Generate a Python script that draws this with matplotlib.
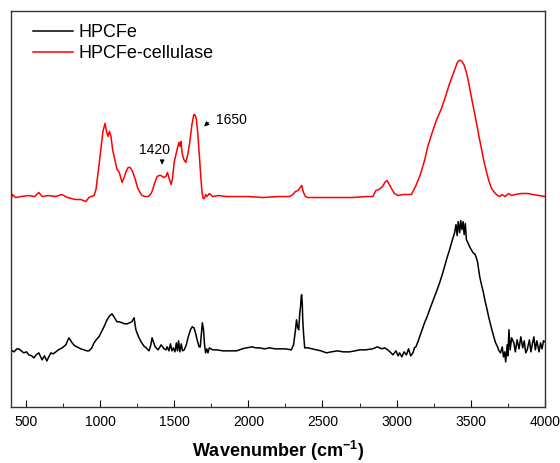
import matplotlib.pyplot as plt
from matplotlib.ticker import MultipleLocator

plt.rcParams.update({
    'font.family': ['Liberation Sans', 'DejaVu Sans'],
    'font.size': 10,
    'mathtext.default': 'regular',
})

# HPCFe-cellulase (red), wavenumber / intensity (a.u.)
wn_red = [400, 410, 430, 470, 520, 560, 588, 610, 650, 700, 743, 780, 836, 870, 905, 925, 940, 960,
          973, 990, 1006, 1020, 1034, 1045, 1054, 1064, 1074, 1085, 1095, 1115, 1130, 1149, 1165,
          1176, 1190, 1203, 1220, 1240, 1253, 1270, 1284, 1305, 1325, 1340, 1351, 1370, 1385, 1400,
          1411, 1430, 1444, 1455, 1468, 1480, 1490, 1500, 1520, 1532, 1540, 1546, 1553, 1565, 1579,
          1592, 1605, 1620, 1633, 1642, 1650, 1660, 1670, 1680, 1688, 1696, 1704, 1712, 1722, 1737,
          1760, 1800, 1850, 1900, 2000, 2100, 2200, 2280, 2300, 2318, 2335, 2350, 2360, 2372, 2385,
          2400, 2500, 2600, 2700, 2800, 2840, 2860, 2880, 2905, 2920, 2935, 2950, 2965, 2985, 3010,
          3045, 3080, 3100, 3130, 3160, 3190, 3210, 3240, 3270, 3300, 3330, 3355, 3375, 3395, 3410,
          3425, 3440, 3455, 3470, 3485, 3500, 3520, 3540, 3555, 3575, 3590, 3610, 3625, 3640, 3660,
          3680, 3695, 3710, 3730, 3755, 3775, 3800, 3840, 3885, 3920, 3960, 4000]
a_red = [207, 212, 209, 210, 211, 210, 214, 210, 211, 210, 212, 209, 207, 207, 205, 209, 210, 211,
         217, 237, 257, 275, 283, 274, 270, 275, 270, 257, 250, 237, 234, 224, 230,
         235, 239, 239, 235, 226, 219, 214, 211, 210, 210, 212, 215, 224, 230, 231,
         231, 229, 230, 234, 227, 222, 229, 244, 257, 264, 260, 265, 254, 247, 244,
         252, 264, 282, 292, 291, 287, 272, 250, 229, 214, 208, 208, 212, 210, 213,
         210, 211, 210, 210, 210, 209, 210, 210, 212, 215, 216, 219, 221, 214, 210,
         209, 209, 209, 209, 210, 210, 216, 217, 220, 224, 226, 222, 218, 213, 211,
         212, 212, 212, 221, 232, 247, 260, 274, 287, 297, 310, 322, 330, 338, 344,
         346, 345, 341, 334, 324, 312, 297, 282, 270, 255, 244, 232, 224, 218, 214,
         211, 210, 212, 210, 213, 211, 212, 213, 213, 212, 211, 210]

# HPCFe (black)
wn_black = [400, 420, 440, 453, 470, 486, 505, 520, 540, 554, 570, 588, 600, 610, 625, 642, 655, 669,
            685, 703, 720, 745, 770, 790, 800, 812, 830, 845, 870, 892, 910, 926, 945, 960, 980,
            993, 1010, 1027, 1048, 1065, 1081, 1098, 1115, 1130, 1149, 1165, 1183, 1200, 1215, 1230,
            1242, 1260, 1277, 1295, 1311, 1331, 1343, 1351, 1360, 1372, 1392, 1412, 1432, 1445, 1453,
            1465, 1475, 1485, 1495, 1505, 1515, 1522, 1530, 1538, 1548, 1556, 1568, 1582, 1595, 1610,
            1622, 1634, 1642, 1655, 1668, 1676, 1683, 1690, 1698, 1705, 1712, 1720, 1728, 1737, 1760,
            1785, 1830, 1873, 1920, 1960, 1988, 2027, 2050, 2074, 2110, 2143, 2180, 2210, 2250, 2290,
            2305, 2318, 2325, 2333, 2340, 2346, 2352, 2357, 2360, 2364, 2367, 2373, 2380, 2400, 2430,
            2460, 2490, 2527, 2560, 2601, 2640, 2682, 2720, 2750, 2790, 2838, 2870, 2900, 2919, 2940,
            2955, 2975, 2995, 3010, 3020, 3035, 3050, 3066, 3080, 3095, 3110, 3120, 3130, 3143, 3155,
            3170, 3188, 3205, 3222, 3240, 3256, 3273, 3290, 3307, 3323, 3340, 3357, 3374, 3391, 3400,
            3408, 3415, 3425, 3432, 3440, 3448, 3455, 3463, 3470, 3480, 3495, 3515, 3530, 3545, 3560,
            3572, 3585, 3597, 3610, 3620, 3630, 3642, 3655, 3667, 3680, 3690, 3700, 3712, 3720, 3728,
            3735, 3745, 3750, 3757, 3765, 3775, 3790, 3800, 3812, 3825, 3837, 3850, 3860, 3870, 3880,
            3895, 3905, 3915, 3925, 3935, 3945, 3960, 3970, 3980, 3990, 4000]
a_black = [57, 55, 58, 58, 56, 54, 55, 52, 51, 49, 52, 54, 50, 47, 51, 46, 50, 54,
           53, 55, 57, 59, 62, 69, 67, 64, 61, 60, 58, 57, 56, 56, 59, 64, 68,
           70, 75, 80, 87, 91, 93, 89, 85, 85, 84, 83, 83, 84, 85, 89,
           77, 70, 65, 61, 59, 56, 62, 69, 65, 60, 57, 62, 58, 57, 60,
           56, 63, 56, 59, 55, 64, 56, 66, 55, 63, 56, 57, 62, 70, 77,
           80, 79, 75, 67, 60, 60, 72, 84, 77, 62, 54, 58, 54, 59, 57,
           57, 56, 56, 56, 58, 59, 60, 59, 59, 58, 59, 58, 58, 58, 57,
           62, 77, 87, 79, 77, 92, 100, 111, 112, 102, 87, 72, 59, 59, 58,
           57, 56, 54, 55, 56, 55, 55, 56, 57, 57, 58, 60, 58, 59, 57,
           55, 52, 56, 51, 54, 50, 55, 52, 58, 51, 54, 59, 60, 65, 70,
           76, 84, 90, 97, 104, 110, 117, 124, 132, 140, 149, 157, 166, 174, 182,
           171, 185, 174, 186, 177, 185, 172, 183, 167, 164, 159, 154, 152, 145, 130,
           122, 114, 105, 97, 90, 84, 77, 70, 64, 60, 56, 54, 60, 50, 55,
           45, 62, 51, 77, 57, 69, 64, 55, 67, 58, 70, 59, 66, 54, 57,
           67, 55, 63, 70, 57, 66, 55, 64, 58, 66, 65]

fig = plt.figure(figsize=(5.6, 4.63), dpi=100)
ax = fig.add_axes([0.0196, 0.121, 0.9536, 0.855])

ax.plot(wn_black, a_black, color='black', lw=1.1, label='HPCFe')
ax.plot(wn_red, a_red, color='red', lw=1.1, label='HPCFe-cellulase')

ax.set_xlim(400, 4000)
ax.set_ylim(0, 395)
ax.xaxis.set_major_locator(MultipleLocator(500))
ax.xaxis.set_minor_locator(MultipleLocator(250))
ax.tick_params(axis='x', which='major', direction='in', length=5, labelsize=10, pad=6)
ax.tick_params(axis='x', which='minor', direction='in', length=3)
ax.set_yticks([])
for s in ax.spines.values():
    s.set_linewidth(1.0)
    s.set_color('#333333')

ax.set_xlabel('Wavenumber (cm$^{-1}$)', fontsize=13, fontweight='bold', labelpad=7)

# peak labels
ax.annotate('', xy=(1419, 239), xytext=(1419, 247),
            arrowprops=dict(arrowstyle='-|>', color='black', lw=0.6, mutation_scale=7))
ax.text(1365, 256, '1420', fontsize=10, ha='center', va='center')
ax.annotate('', xy=(1689, 278), xytext=(1745, 286),
            arrowprops=dict(arrowstyle='-|>', color='black', lw=0.6, mutation_scale=7))
ax.text(1785, 286, '1650', fontsize=10, ha='left', va='center')

ax.legend(loc='upper left', bbox_to_anchor=(0.041, 0.967), frameon=False, fontsize=13,
          handlelength=2.2, borderpad=0, borderaxespad=0, labelspacing=0.21,
          handletextpad=0.3)

fig.savefig('out.png', dpi=100, facecolor='white')
